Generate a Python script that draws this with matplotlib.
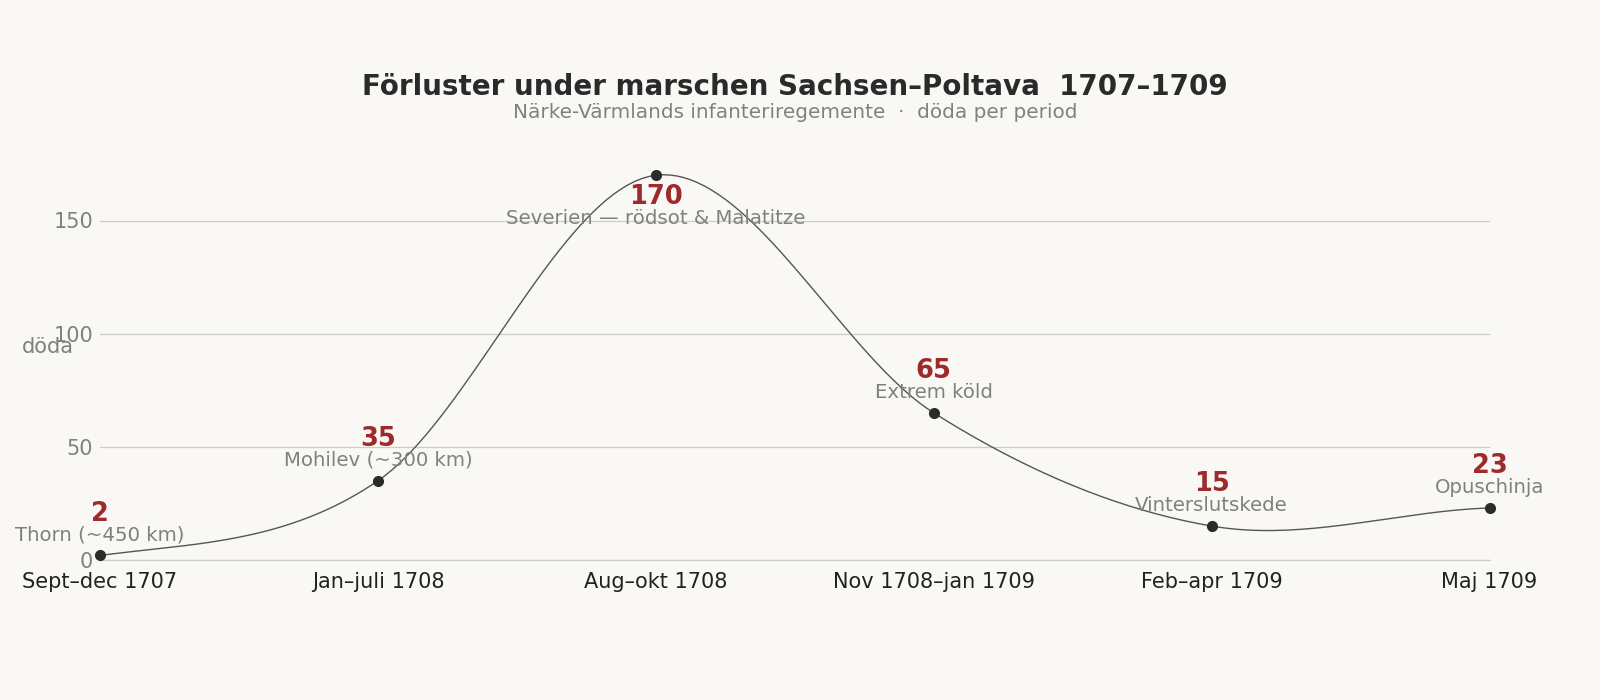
import numpy as np
import matplotlib.pyplot as plt

# Data
periods = ["Sept–dec 1707", "Jan–juli 1708", "Aug–okt 1708",
           "Nov 1708–jan 1709", "Feb–apr 1709", "Maj 1709"]
deaths = [2, 35, 170, 65, 15, 23]
notes = ["Thorn (~450 km)", "Mohilev (~300 km)", "Severien — rödsot & Malatitze",
         "Extrem köld", "Vinterslutskede", "Opuschinja"]

BG = "#f9f8f5"
RED = "#9e2a2b"
GREY = "#808080"
DARK = "#222222"


def hermite_curve(y, n=40):
    """Smooth Catmull-Rom curve through the points (for drawing only)."""
    y = np.asarray(y, dtype=float)
    m = np.gradient(y)
    # endpoints behave like duplicated end points
    m[0] = (y[1] - y[0]) / 2
    m[-1] = (y[-1] - y[-2]) / 2
    xs, ys = [], []
    for i in range(len(y) - 1):
        t = np.linspace(0, 1, n, endpoint=False)
        h00 = 2 * t**3 - 3 * t**2 + 1
        h10 = t**3 - 2 * t**2 + t
        h01 = -2 * t**3 + 3 * t**2
        h11 = t**3 - t**2
        xs.append(i + t)
        ys.append(h00 * y[i] + h10 * m[i] + h01 * y[i + 1] + h11 * m[i + 1])
    xs.append([len(y) - 1])
    ys.append([y[-1]])
    return np.concatenate(xs), np.concatenate(ys)


fig = plt.figure(figsize=(16, 7), dpi=100, facecolor=BG)
ax = fig.add_axes([0.0625, 0.2, 0.8685, 0.582], facecolor=BG)

x = np.arange(len(deaths))
cx, cy = hermite_curve(deaths)
ax.plot(cx, cy, color="#555555", lw=1.0, zorder=2)
ax.plot(x, deaths, "o", color="#2b2b2b", ms=7, zorder=3, clip_on=False)

for i, (v, note) in enumerate(zip(deaths, notes)):
    if v == max(deaths):
        off_val, off_note = -16, -31
    else:
        off_val, off_note = 30, 15
    ax.annotate(str(v), (i, v), xytext=(0, off_val), textcoords="offset points",
                ha="center", va="center", fontsize=18.5, fontweight="bold", color=RED)
    ax.annotate(note, (i, v), xytext=(0, off_note), textcoords="offset points",
                ha="center", va="center", fontsize=14.2, color=GREY)

ax.set_xlim(0, len(deaths) - 1)
ax.set_ylim(0, 180)
ax.set_yticks([0, 50, 100, 150])
ax.set_xticks(x)
ax.set_xticklabels(periods)
ax.tick_params(axis="x", length=0, pad=9, labelsize=15, labelcolor=DARK)
ax.tick_params(axis="y", length=0, pad=5, labelsize=15, labelcolor=GREY)
ax.grid(axis="y", color="#cccccc", lw=0.9)
ax.axhline(0, color="#cccccc", lw=0.9, clip_on=False, zorder=0)
ax.set_axisbelow(True)
for s in ax.spines.values():
    s.set_visible(False)

ax.set_ylabel("döda", rotation=0, fontsize=15, color=GREY, ha="right", va="center")
ax.yaxis.set_label_coords(-0.019, 0.523)

fig.text(0.497, 0.876, "Förluster under marschen Sachsen–Poltava  1707–1709",
         ha="center", va="center", fontsize=20, fontweight="bold", color="#2a2a2a")
fig.text(0.497, 0.84, "Närke-Värmlands infanteriregemente  ·  döda per period",
         ha="center", va="center", fontsize=14.4, color=GREY)

fig.savefig("out.png", dpi=100, facecolor=BG)
